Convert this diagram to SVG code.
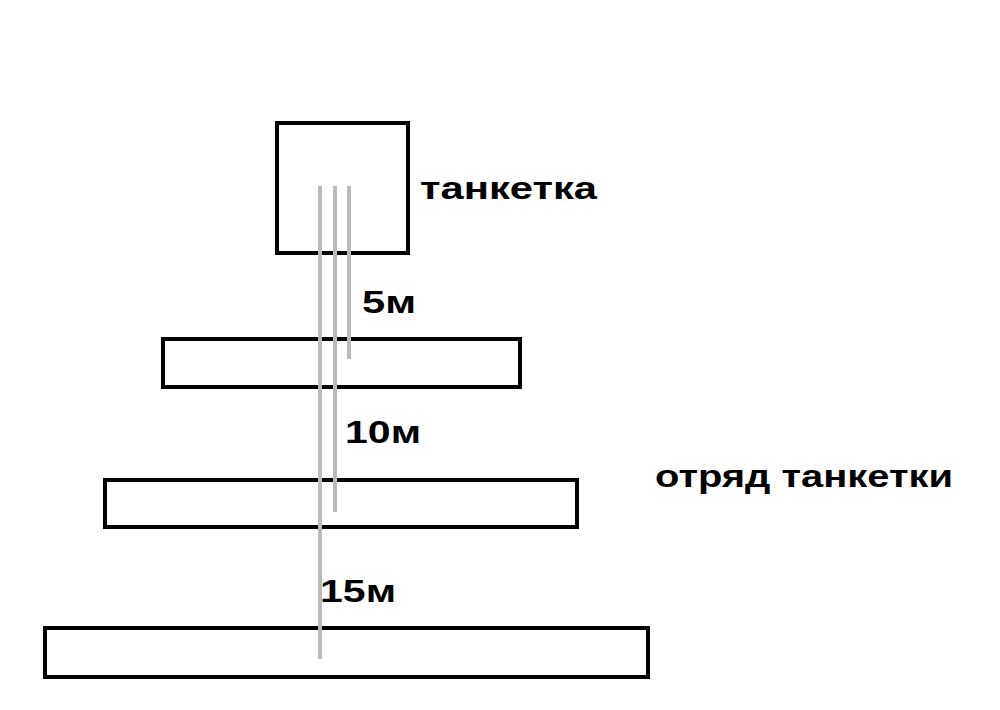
<svg xmlns="http://www.w3.org/2000/svg" width="1000" height="710" viewBox="0 0 1000 710">
<style>
.box{fill:#fff;stroke:#000;stroke-width:4}
.ln{stroke:#bbb;stroke-width:4;fill:none}
text{font-family:"Liberation Sans",Arial,sans-serif;font-weight:bold;font-size:31px;fill:#000}
</style>
<rect width="1000" height="710" fill="#fff"/>
<g id="tanketka"><rect class="box" x="277" y="123" width="131" height="130"/></g>
<g id="bar1"><rect class="box" x="163" y="339" width="357" height="48"/></g>
<g id="bar2"><rect class="box" x="105" y="480" width="472" height="47"/></g>
<g id="bar3"><rect class="box" x="45" y="628" width="603" height="49"/></g>
<g id="connectors">
<line class="ln" x1="320" y1="186" x2="320" y2="659"/>
<line class="ln" x1="335" y1="186" x2="335" y2="512"/>
<line class="ln" x1="349" y1="186" x2="349" y2="359"/>
</g>
<g id="labels">
<text x="420" y="199" textLength="177" lengthAdjust="spacingAndGlyphs">танкетка</text>
<text x="362" y="313" textLength="54" lengthAdjust="spacingAndGlyphs">5м</text>
<text x="345" y="443" textLength="76" lengthAdjust="spacingAndGlyphs">10м</text>
<text x="320" y="602" textLength="76" lengthAdjust="spacingAndGlyphs">15м</text>
<text x="655" y="487" textLength="298" lengthAdjust="spacingAndGlyphs">отряд танкетки</text>
</g>
</svg>
